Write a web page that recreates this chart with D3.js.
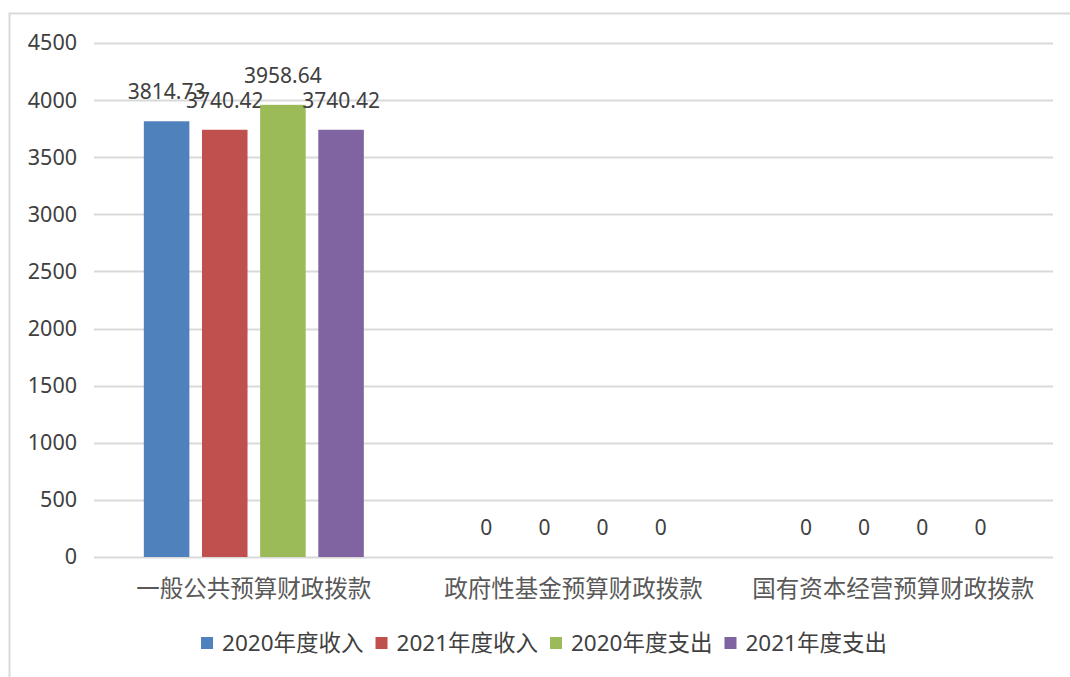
<!DOCTYPE html>
<html>
<head>
<meta charset="utf-8">
<script src="https://cdn.jsdelivr.net/npm/d3@7"></script>
<style>
  html, body { margin: 0; padding: 0; background: #ffffff; }
  svg { display: block; }
  text { font-family: "Noto Sans", "Noto Sans CJK SC", sans-serif; }
</style>
</head>
<body>
<svg id="chart" width="1070" height="677"></svg>
<script>
const categories = ["一般公共预算财政拨款", "政府性基金预算财政拨款", "国有资本经营预算财政拨款"];
const seriesNames = ["2020年度收入", "2021年度收入", "2020年度支出", "2021年度支出"];
const income2020 = [3814.73, 0, 0];
const income2021 = [3740.42, 0, 0];
const expense2020 = [3958.64, 0, 0];
const expense2021 = [3740.42, 0, 0];
const yTicks = [0, 500, 1000, 1500, 2000, 2500, 3000, 3500, 4000, 4500];
const colors = ["#4F81BD", "#C0504D", "#9BBB59", "#8064A2"];

const seriesValues = [income2020, income2021, expense2020, expense2021];

const svg = d3.select("#chart");

// outer chart border (left and top visible)
svg.append("rect")
  .attr("x", 9.5).attr("y", 13.5)
  .attr("width", 1080).attr("height", 700)
  .attr("fill", "none").attr("stroke", "#D9D9D9").attr("stroke-width", 2);

const plotLeft = 94, plotRight = 1053, plotTop = 43, plotBottom = 557;

const y = d3.scaleLinear().domain([0, 4500]).range([plotBottom, plotTop]);
const x0 = d3.scaleBand().domain(categories).range([plotLeft, plotRight]).padding(0);

// gridlines
svg.append("g").selectAll("line").data(yTicks).join("line")
  .attr("x1", plotLeft).attr("x2", plotRight)
  .attr("y1", d => Math.round(y(d)) + 0.5).attr("y2", d => Math.round(y(d)) + 0.5)
  .attr("stroke", "#D9D9D9").attr("stroke-width", 2);

// y axis labels
const yAxis = d3.axisLeft(y).tickValues(yTicks).tickSize(0).tickPadding(0).tickFormat(d3.format("d"));
const yg = svg.append("g").attr("transform", `translate(77,0)`).call(yAxis);
yg.select(".domain").remove();
yg.selectAll("text")
  .attr("fill", "#404040")
  .style("font-size", "21.5px")
  .style("font-family", "'Noto Sans', sans-serif");

// inner band per category
const groupWidth = 220;
const x1 = d3.scaleBand().domain(seriesNames).range([0, groupWidth]).paddingInner(0.217).paddingOuter(0);

const groups = svg.append("g").selectAll("g").data(categories).join("g")
  .attr("transform", c => `translate(${x0(c) + x0.bandwidth() / 2 - groupWidth / 2},0)`);

groups.each(function(c, ci) {
  const g = d3.select(this);
  seriesNames.forEach((s, si) => {
    const v = seriesValues[si][ci];
    if (v > 0) {
      g.append("rect")
        .attr("x", x1(s)).attr("width", x1.bandwidth())
        .attr("y", y(v)).attr("height", y(0) - y(v))
        .attr("fill", colors[si]);
    }
    g.append("text")
      .attr("x", x1(s) + x1.bandwidth() / 2)
      .attr("y", y(v) - 22)
      .attr("text-anchor", "middle")
      .attr("fill", "#404040")
      .style("font-size", "21px")
      .text(v === 0 ? "0" : v.toFixed(2));
  });
});

// category labels
const xAxis = d3.axisBottom(x0).tickSize(0).tickPadding(0);
const xg = svg.append("g").attr("transform", `translate(0,${plotBottom})`).call(xAxis);
xg.select(".domain").remove();
xg.selectAll("text")
  .attr("dy", null)
  .attr("y", 40)
  .attr("fill", "#595959")
  .style("font-size", "23.5px")
  .style("font-family", "'Noto Sans CJK SC', sans-serif");

// legend
const legend = svg.append("g");
const items = legend.selectAll("g").data(seriesNames).join("g");
items.append("rect").attr("width", 12).attr("height", 12).attr("y", -6)
  .attr("fill", (d, i) => colors[i]);
items.append("text").attr("x", 21).attr("y", 8)
  .attr("fill", "#404040")
  .style("font-size", "22.5px")
  .text(d => d);
let offs = [], cur = 0;
items.each(function() {
  offs.push(cur);
  const tw = d3.select(this).select("text").node().getComputedTextLength();
  cur += 21 + tw + 12;
});
const totalW = cur - 12;
const legendStart = 544 - totalW / 2;
items.attr("transform", (d, i) => `translate(${legendStart + offs[i]},643)`);
</script>
</body>
</html>
